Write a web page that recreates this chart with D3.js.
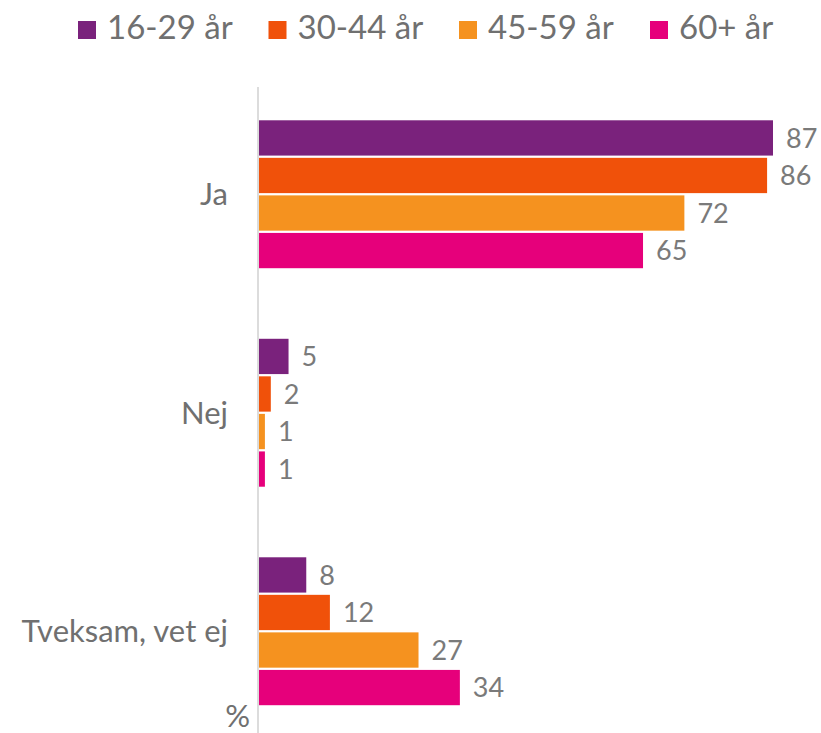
<!DOCTYPE html>
<html>
<head>
<meta charset="utf-8">
<script src="https://cdn.jsdelivr.net/npm/d3@7"></script>
<style>
  html, body { margin: 0; padding: 0; background: #fff; }
  svg { display: block; font-family: Lato, "Open Sans", sans-serif; }
</style>
</head>
<body>
<svg id="chart" width="821" height="733"></svg>
<script>
// Answer categories and age groups
const categories = ["Ja", "Nej", "Tveksam, vet ej"];
const groups = ["16-29 år", "30-44 år", "45-59 år", "60+ år"];
const colors = ["#7a227c", "#f0510a", "#f5921f", "#e6007b"];

// Share (%) per age group, one array per answer category
const ja = [87, 86, 72, 65];
const nej = [5, 2, 1, 1];
const tveksam = [8, 12, 27, 34];
const values = [ja, nej, tveksam];

const unitLabel = "%";

const svg = d3.select("#chart");
const textColor = "#707070";

const y0 = d3.scaleBand()
  .domain(categories)
  .range([85, 740.5])
  .paddingInner(0.323)
  .paddingOuter(0.1615);

const y1 = d3.scaleBand()
  .domain(groups)
  .range([0, y0.bandwidth()])
  .paddingInner(0.06);

const x = d3.scaleLinear().domain([0, 100]).range([259, 849.8]);

// Vertical category axis line
svg.append("line")
  .attr("x1", 258).attr("x2", 258)
  .attr("y1", 87).attr("y2", 733)
  .attr("stroke", "#dcdcdc").attr("stroke-width", 2);

// Bars and value labels
const cat = svg.selectAll("g.cat")
  .data(categories)
  .join("g")
  .attr("class", "cat")
  .attr("transform", d => `translate(0,${y0(d)})`);

cat.each(function(c, ci) {
  const g = d3.select(this);
  const rows = groups.map((grp, gi) => ({ grp, gi, v: values[ci][gi] }));
  g.selectAll("rect")
    .data(rows)
    .join("rect")
    .attr("x", x(0))
    .attr("y", d => y1(d.grp))
    .attr("width", d => x(d.v) - x(0))
    .attr("height", y1.bandwidth())
    .attr("fill", d => colors[d.gi]);
  g.selectAll("text")
    .data(rows)
    .join("text")
    .attr("x", d => x(d.v) + 13)
    .attr("y", d => y1(d.grp) + y1.bandwidth() / 2)
    .attr("dy", "0.36em")
    .attr("font-size", 27)
    .attr("fill", "#7a7a7a")
    .text(d => d.v);
});

// Category labels
svg.selectAll("text.catlabel")
  .data(categories)
  .join("text")
  .attr("class", "catlabel")
  .attr("x", 228)
  .attr("y", d => y0(d) + y0.bandwidth() / 2)
  .attr("dy", "0.36em")
  .attr("text-anchor", "end")
  .attr("font-size", 31)
  .attr("fill", textColor)
  .text(d => d);

// Unit label
svg.append("text")
  .attr("x", 250).attr("y", 727)
  .attr("text-anchor", "end")
  .attr("font-size", 31)
  .attr("fill", textColor)
  .text(unitLabel);

// Legend
const legendX = [78, 268.5, 459, 650];
const legend = svg.selectAll("g.legend")
  .data(groups)
  .join("g")
  .attr("class", "legend")
  .attr("transform", (d, i) => `translate(${legendX[i]},0)`);
legend.append("rect")
  .attr("x", 0).attr("y", 21)
  .attr("width", 18).attr("height", 18)
  .attr("fill", (d, i) => colors[i]);
legend.append("text")
  .attr("x", 29).attr("y", 38.5)
  .attr("font-size", 33)
  .attr("fill", textColor)
  .text(d => d);
</script>
</body>
</html>
